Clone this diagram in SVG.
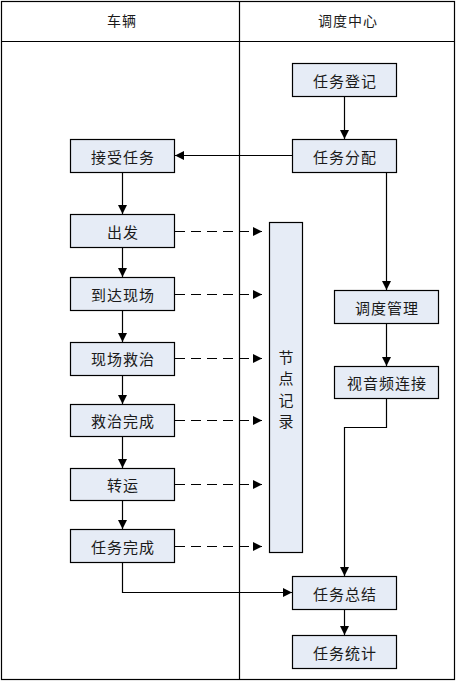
<svg xmlns="http://www.w3.org/2000/svg" width="457" height="682" viewBox="0 0 457 682">
<defs>
<style>
.box{fill:#e6ecf6;stroke:#000;stroke-width:1.2}
.t{font-family:"Noto Sans CJK SC","Noto Sans",sans-serif;font-size:15px;letter-spacing:1px;text-anchor:middle;dominant-baseline:central;fill:#1a1a1a}
.v{font-family:"Noto Sans CJK SC","Noto Sans",sans-serif;font-size:15px;text-anchor:middle;dominant-baseline:central;fill:#1a1a1a}
.h{font-family:"Noto Sans CJK SC","Noto Sans",sans-serif;font-size:14px;letter-spacing:1px;text-anchor:middle;dominant-baseline:central;fill:#1a1a1a}
.ln{fill:none;stroke:#000;stroke-width:1.2}
.ar{marker-end:url(#ah)}
.ds{stroke-dasharray:10 6}
</style>
<marker id="ah" markerWidth="10" markerHeight="10" refX="9" refY="5" orient="auto" markerUnits="userSpaceOnUse">
<path d="M0,0.5 L9,5 L0,9.5 Z" fill="#000"/>
</marker>
</defs>
<rect width="457" height="682" fill="#fff"/>
<g id="frame">
<rect x="1.5" y="1.5" width="453" height="678" fill="none" stroke="#000" stroke-width="1.2"/>
<line x1="1.5" y1="41.5" x2="454.5" y2="41.5" stroke="#000" stroke-width="1.2"/>
<line x1="239.5" y1="1.5" x2="239.5" y2="680" stroke="#000" stroke-width="1.2"/>
<text class="h" x="122" y="20">车辆</text>
<text class="h" x="348" y="20">调度中心</text>
</g>
<g id="connectors">
<path class="ln ar" d="M344.5,96 V139"/>
<path class="ln ar" d="M292,155.5 H175"/>
<path class="ln ar" d="M122.5,172 V214"/>
<path class="ln ar" d="M122.5,247 V277"/>
<path class="ln ar" d="M122.5,311 V342"/>
<path class="ln ar" d="M122.5,375 V404"/>
<path class="ln ar" d="M122.5,436 V468"/>
<path class="ln ar" d="M122.5,500 V529"/>
<path class="ln ar" d="M386.5,172 V290"/>
<path class="ln ar" d="M386.5,323 V366"/>
<path class="ln ar" d="M386.5,398 V427.5 H344.5 V576"/>
<path class="ln ar" d="M122.5,562 V592.5 H292"/>
<path class="ln ar" d="M344.5,609 V635"/>
<path class="ln ar ds" d="M175,231.5 H262"/>
<path class="ln ar ds" d="M175,294.5 H262"/>
<path class="ln ar ds" d="M175,358.5 H262"/>
<path class="ln ar ds" d="M175,420.5 H262"/>
<path class="ln ar ds" d="M175,484.5 H262"/>
<path class="ln ar ds" d="M175,546.5 H262"/>
</g>
<g id="n_jieshou"><rect class="box" x="70.5" y="139.5" width="104" height="33"/><text class="t" x="123" y="156">接受任务</text></g>
<g id="n_chufa"><rect class="box" x="70.5" y="214.5" width="104" height="33"/><text class="t" x="123" y="231">出发</text></g>
<g id="n_daoda"><rect class="box" x="70.5" y="277.5" width="104" height="33"/><text class="t" x="123" y="294">到达现场</text></g>
<g id="n_jiuzhi"><rect class="box" x="70.5" y="342.5" width="104" height="33"/><text class="t" x="123" y="358">现场救治</text></g>
<g id="n_wancheng"><rect class="box" x="70.5" y="404.5" width="104" height="32"/><text class="t" x="123" y="420">救治完成</text></g>
<g id="n_zhuanyun"><rect class="box" x="70.5" y="468.5" width="104" height="32"/><text class="t" x="123" y="484">转运</text></g>
<g id="n_renwuwc"><rect class="box" x="70.5" y="529.5" width="104" height="33"/><text class="t" x="123" y="546">任务完成</text></g>
<g id="n_dengji"><rect class="box" x="292.5" y="63.5" width="104" height="33"/><text class="t" x="345" y="80">任务登记</text></g>
<g id="n_fenpei"><rect class="box" x="292.5" y="139.5" width="104" height="33"/><text class="t" x="345" y="156">任务分配</text></g>
<g id="n_jilu"><rect class="box" x="269.5" y="222.5" width="33" height="330"/>
<text class="v" x="286" y="356">节</text><text class="v" x="286" y="377">点</text><text class="v" x="286" y="399">记</text><text class="v" x="286" y="420">录</text></g>
<g id="n_guanli"><rect class="box" x="334.5" y="290.5" width="104" height="33"/><text class="t" x="387" y="307">调度管理</text></g>
<g id="n_shiyin"><rect class="box" x="334.5" y="366.5" width="104" height="32"/><text class="t" x="387" y="382">视音频连接</text></g>
<g id="n_zongjie"><rect class="box" x="292.5" y="576.5" width="104" height="33"/><text class="t" x="345" y="593">任务总结</text></g>
<g id="n_tongji"><rect class="box" x="292.5" y="635.5" width="104" height="33"/><text class="t" x="345" y="652">任务统计</text></g>
</svg>
